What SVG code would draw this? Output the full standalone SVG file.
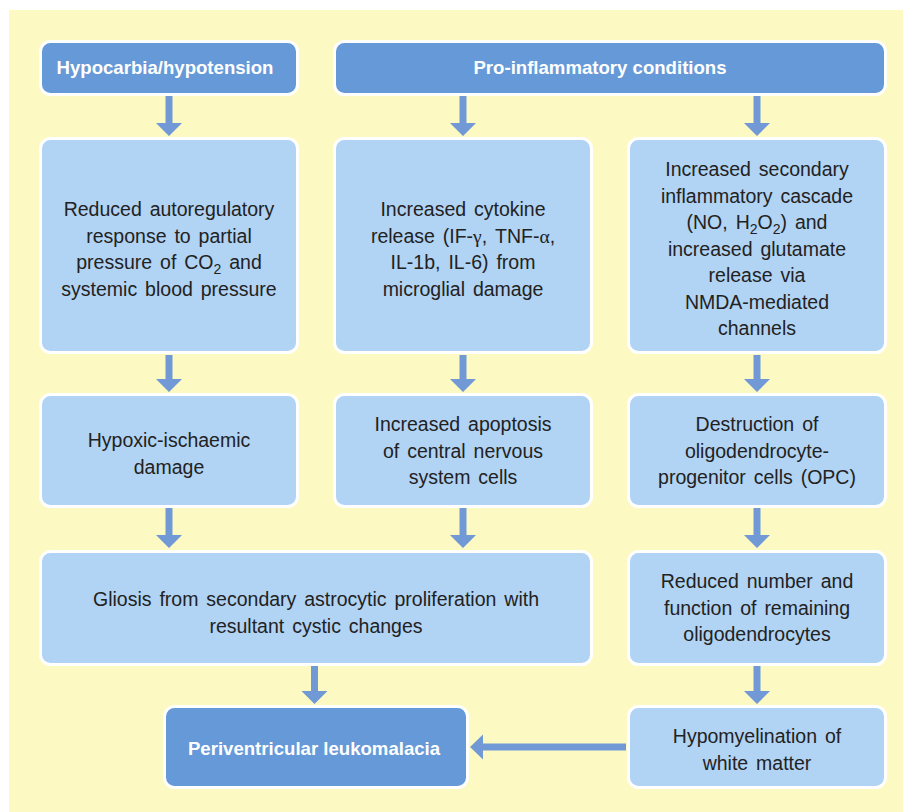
<svg xmlns="http://www.w3.org/2000/svg" width="903" height="812" viewBox="0 0 903 812">
<style>
.hdr{fill:#6699D7;stroke:#FFFFFF;stroke-width:3}
.box{fill:#B1D3F4;stroke:#FFFFFF;stroke-width:3}
.ht{font-family:"Liberation Sans",Arial,sans-serif;font-size:18.6px;font-weight:bold;fill:#FFFFFF;text-anchor:middle}
.t{font-family:"Liberation Sans",Arial,sans-serif;font-size:19.5px;fill:#222222;text-anchor:middle;word-spacing:2.5px}
.g{font-family:"Liberation Serif","Times New Roman",serif}
.arr{fill:#7199D6}
</style>
<rect x="9" y="10" width="894" height="802" fill="#FCF9C2"/>
<g id="connectors">
<polygon class="arr" points="165.5,96 172.5,96 172.5,123 182,123 169,136 156,123 165.5,123"/>
<polygon class="arr" points="459.5,96 466.5,96 466.5,123 476,123 463,136 450,123 459.5,123"/>
<polygon class="arr" points="753.5,96 760.5,96 760.5,123 770,123 757,136 744,123 753.5,123"/>
<polygon class="arr" points="165.5,355 172.5,355 172.5,379 182,379 169,392 156,379 165.5,379"/>
<polygon class="arr" points="459.5,355 466.5,355 466.5,379 476,379 463,392 450,379 459.5,379"/>
<polygon class="arr" points="753.5,355 760.5,355 760.5,379 770,379 757,392 744,379 753.5,379"/>
<polygon class="arr" points="165.5,508 172.5,508 172.5,535 182,535 169,548 156,535 165.5,535"/>
<polygon class="arr" points="459.5,508 466.5,508 466.5,535 476,535 463,548 450,535 459.5,535"/>
<polygon class="arr" points="753.5,508 760.5,508 760.5,535 770,535 757,548 744,535 753.5,535"/>
<polygon class="arr" points="311,666 318,666 318,691 327.5,691 314.5,704 301.5,691 311,691"/>
<polygon class="arr" points="753.5,666 760.5,666 760.5,691 770,691 757,704 744,691 753.5,691"/>
<polygon class="arr" points="626,743.5 483,743.5 483,734.5 470,747 483,759.5 483,750.5 626,750.5"/>
</g>
<g id="hypocarbia">
<rect class="hdr" x="40.5" y="41.5" width="257" height="53" rx="10"/>
<text class="ht" x="165" y="74">Hypocarbia/hypotension</text>
</g>
<g id="proinflammatory">
<rect class="hdr" x="334.5" y="41.5" width="551" height="53" rx="10"/>
<text class="ht" x="600" y="74">Pro-inflammatory conditions</text>
</g>
<g id="autoregulatory">
<rect class="box" x="40.5" y="138.5" width="257" height="214" rx="10"/>
<text class="t" x="169" y="216">Reduced autoregulatory</text>
<text class="t" x="169" y="242.5">response to partial</text>
<text class="t" x="169" y="269">pressure of CO<tspan dy="5" font-size="14">2</tspan><tspan dy="-5"> and</tspan></text>
<text class="t" x="169" y="295.5">systemic blood pressure</text>
</g>
<g id="cytokine">
<rect class="box" x="334.5" y="138.5" width="257" height="214" rx="10"/>
<text class="t" x="463" y="216">Increased cytokine</text>
<text class="t" x="463" y="242.5">release (IF-<tspan class="g">γ</tspan>, TNF-<tspan class="g">α</tspan>,</text>
<text class="t" x="463" y="269">IL-1b, IL-6) from</text>
<text class="t" x="463" y="295.5">microglial damage</text>
</g>
<g id="cascade">
<rect class="box" x="628.5" y="138.5" width="257" height="214" rx="10"/>
<text class="t" x="757" y="176">Increased secondary</text>
<text class="t" x="757" y="202.5">inflammatory cascade</text>
<text class="t" x="757" y="229">(NO, H<tspan dy="5" font-size="14">2</tspan><tspan dy="-5">O</tspan><tspan dy="5" font-size="14">2</tspan><tspan dy="-5">) and</tspan></text>
<text class="t" x="757" y="255.5">increased glutamate</text>
<text class="t" x="757" y="282">release via</text>
<text class="t" x="757" y="308.5">NMDA-mediated</text>
<text class="t" x="757" y="335">channels</text>
</g>
<g id="hypoxic">
<rect class="box" x="40.5" y="394.5" width="257" height="112" rx="10"/>
<text class="t" x="169" y="447">Hypoxic-ischaemic</text>
<text class="t" x="169" y="473.5">damage</text>
</g>
<g id="apoptosis">
<rect class="box" x="334.5" y="394.5" width="257" height="112" rx="10"/>
<text class="t" x="463" y="431">Increased apoptosis</text>
<text class="t" x="463" y="457.5">of central nervous</text>
<text class="t" x="463" y="484">system cells</text>
</g>
<g id="opc">
<rect class="box" x="628.5" y="394.5" width="257" height="112" rx="10"/>
<text class="t" x="757" y="431">Destruction of</text>
<text class="t" x="757" y="457.5">oligodendrocyte-</text>
<text class="t" x="757" y="484">progenitor cells (OPC)</text>
</g>
<g id="gliosis">
<rect class="box" x="40.5" y="551.5" width="551" height="113" rx="10"/>
<text class="t" x="316" y="606">Gliosis from secondary astrocytic proliferation with</text>
<text class="t" x="316" y="632.5">resultant cystic changes</text>
</g>
<g id="oligodendrocytes">
<rect class="box" x="628.5" y="551.5" width="257" height="113" rx="10"/>
<text class="t" x="757" y="588">Reduced number and</text>
<text class="t" x="757" y="614.5">function of remaining</text>
<text class="t" x="757" y="641">oligodendrocytes</text>
</g>
<g id="pvl">
<rect class="hdr" x="164.5" y="706.5" width="303" height="81" rx="10"/>
<text class="ht" x="314" y="755">Periventricular leukomalacia</text>
</g>
<g id="hypomyelination">
<rect class="box" x="628.5" y="706.5" width="257" height="81" rx="10"/>
<text class="t" x="757" y="743">Hypomyelination of</text>
<text class="t" x="757" y="770">white matter</text>
</g>
</svg>
